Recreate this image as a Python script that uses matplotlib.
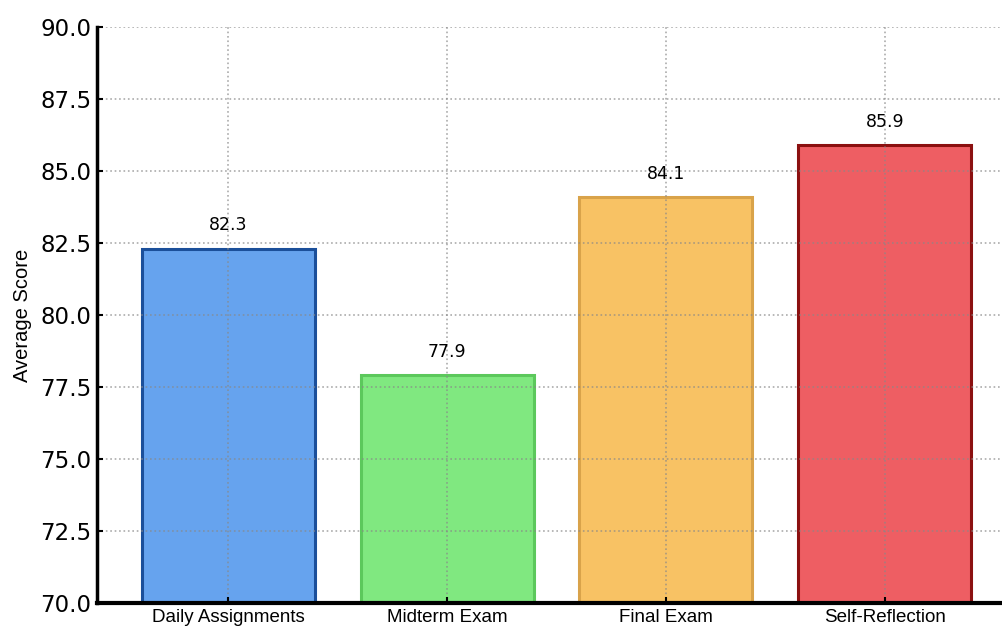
import matplotlib
matplotlib.use("Agg")
import matplotlib.pyplot as plt

# === data ===
categories = ["Daily Assignments", "Midterm Exam", "Final Exam", "Self-Reflection"]
scores = [82.3, 77.9, 84.1, 85.9]
fill_colors = ["#66a3ee", "#80e880", "#f8c264", "#ee5e63"]
edge_colors = ["#1b4f9a", "#5cc85c", "#d9a34a", "#8b1010"]
y_ticks = [70.0, 72.5, 75.0, 77.5, 80.0, 82.5, 85.0, 87.5, 90.0]

plt.rcParams["font.family"] = ["DejaVu Sans"]
narrow = ["Liberation Sans", "DejaVu Sans"]

fig = plt.figure(figsize=(10.02, 6.34), dpi=100)
# axes run a little past the right edge, as in the cropped reference
ax = fig.add_axes([97 / 1002, 31 / 634, (1016 - 97) / 1002, (603 - 27) / 634])

x = list(range(len(categories)))
ax.bar(x, scores, width=0.79, color=fill_colors, edgecolor=edge_colors, linewidth=2.2)

for xi, v in zip(x, scores):
    ax.text(xi, v + 0.5, f"{v:.1f}", ha="center", va="bottom", fontsize=12.5)

ax.set_xlim(-0.6, 3.6)
ax.set_ylim(70, 90)
ax.set_yticks(y_ticks)
ax.set_yticklabels([f"{t:.1f}" for t in y_ticks], fontsize=16.5)
ax.set_xticks(x)
ax.set_xticklabels(categories, fontsize=13.5, family=narrow)
ax.set_ylabel("Average Score", fontsize=14.5, family=narrow, labelpad=6)

ax.grid(True, linestyle=":", color="#888888", linewidth=1.2, alpha=0.7)
ax.spines["top"].set_visible(False)
ax.spines["right"].set_visible(False)
ax.spines["left"].set_linewidth(2.5)
ax.spines["bottom"].set_linewidth(3)
ax.tick_params(axis="both", direction="in", length=4, width=1.5, pad=4)

fig.savefig("out.png", dpi=100)
